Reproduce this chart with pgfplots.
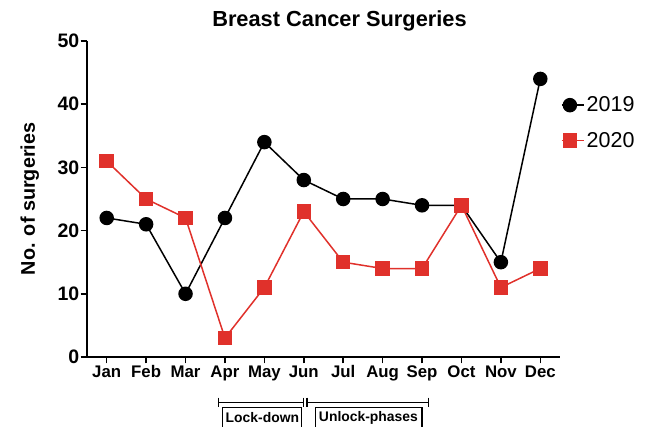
\documentclass[border=0pt]{standalone}
\usepackage{pgfplots}
\pgfplotsset{compat=1.18}
\usepackage{fontspec}
\setmainfont{Liberation Sans}
\definecolor{myred}{HTML}{E0312B}
\begin{document}
\begin{tikzpicture}[x=1pt,y=1pt]
\begin{axis}[
  at={(0,0)}, anchor=south west,
  scale only axis, width=473pt, height=316pt,
  xmin=-0.5, xmax=11.5, ymin=0, ymax=50,
  axis lines*=left,
  axis line style={line width=1.8pt},
  every tick/.style={line width=1.5pt, black},
  tick align=outside, major tick length=6.5pt,
  xtick={0,...,11},
  xticklabels={Jan,Feb,Mar,Apr,May,Jun,Jul,Aug,Sep,Oct,Nov,Dec},
  ytick={0,10,...,50},
  xticklabel style={font=\fontsize{16.8}{16.8}\selectfont\bfseries, inner sep=1pt, yshift=-1pt},
  yticklabel style={font=\fontsize{19.5}{19.5}\selectfont\bfseries, inner sep=1pt},
  /pgf/number format/assume math mode=true,
  ylabel={No. of surgeries},
  ylabel style={font=\fontsize{19.8}{19.8}\selectfont\bfseries, yshift=14pt},
  title={Breast Cancer Surgeries},
  title style={font=\fontsize{21.8}{21.8}\selectfont\bfseries, xshift=16pt, yshift=0pt},
  clip=false,
  legend style={draw=none, fill=none, at={(1.002,0.83)}, anchor=north west,
    font=\fontsize{21.5}{21.5}\selectfont, row sep=15pt, inner sep=0pt},
  legend cell align=left,
  legend image code/.code={\draw[#1, line width=1.5pt] (-20pt,0pt) -- (-4pt,0pt); \draw[#1, mark repeat=2, mark phase=2] plot coordinates {(-18pt,0pt) (-12pt,0pt) (-6pt,0pt)}; \path (-20pt,0pt) -- (2pt,0pt);},
]
\addplot[black, line width=1.5pt, mark=*, mark size=6.5pt] coordinates {
(0,22) (1,21) (2,10) (3,22) (4,34) (5,28) (6,25) (7,25) (8,24) (9,24) (10,15) (11,44)};
\addlegendentry{2019}
\addplot[myred, line width=1.5pt, mark=square*, mark size=6.5pt] coordinates {
(0,31) (1,25) (2,22) (3,3) (4,11) (5,23) (6,15) (7,14) (8,14) (9,24) (10,11) (11,14)};
\addlegendentry{2020}
% brackets
\draw[line width=1.3pt] (axis cs:2.84,-7.17) -- (axis cs:4.99,-7.17);
\draw[line width=1.3pt] (axis cs:2.84,-6.44) -- (axis cs:2.84,-7.86);
\draw[line width=1.3pt] (axis cs:4.99,-6.44) -- (axis cs:4.99,-7.86);
\draw[line width=1.3pt] (axis cs:5.08,-7.17) -- (axis cs:8.16,-7.17);
\draw[line width=1.3pt] (axis cs:5.08,-6.44) -- (axis cs:5.08,-7.86);
\draw[line width=1.3pt] (axis cs:8.16,-6.44) -- (axis cs:8.16,-7.86);
\draw[line width=1.2pt] (axis cs:2.93,-12) -- (axis cs:2.93,-8.02) -- (axis cs:4.94,-8.02) -- (axis cs:4.94,-12);
\draw[line width=1.2pt] (axis cs:5.30,-12) -- (axis cs:5.30,-8.02) -- (axis cs:8.00,-8.02) -- (axis cs:8.00,-12);
\node[font=\fontsize{13.9}{13.9}\selectfont\bfseries] at (axis cs:3.95,-9.6) {Lock-down};
\node[font=\fontsize{13.9}{13.9}\selectfont\bfseries] at (axis cs:6.64,-9.6) {Unlock-phases};
\end{axis}
\pgfresetboundingbox
\useasboundingbox (-87,-70) rectangle (558,357);
\end{tikzpicture}
\end{document}
